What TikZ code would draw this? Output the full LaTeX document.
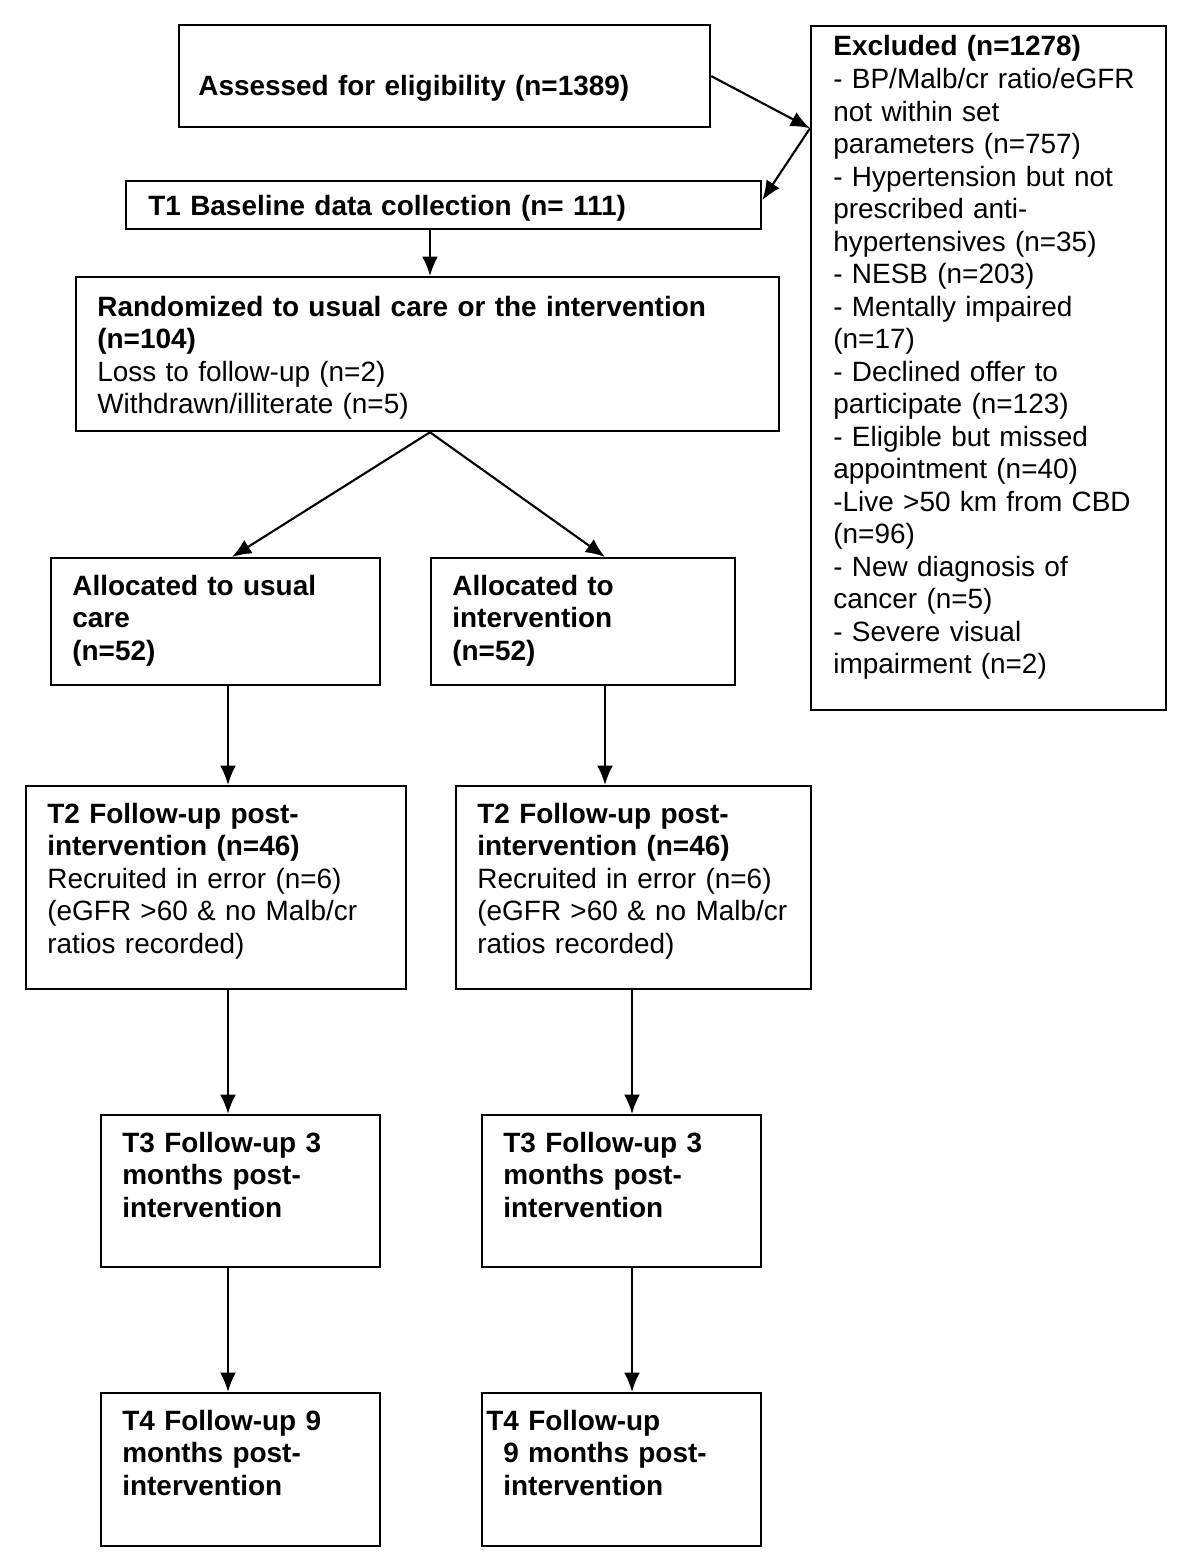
\documentclass[tikz,border=0pt]{standalone}
\usepackage{fontspec}
\setmainfont{Liberation Sans}
\usetikzlibrary{arrows.meta,calc}

\begin{document}
\begin{tikzpicture}[x=0.2mm, y=-0.2mm,
	box/.style={draw, line width=1.3pt, anchor=north west, inner sep=0pt},
	txt/.style={anchor=base west, align=left, inner sep=0pt, text width=20cm, font=\fontsize{15.9}{18.5}\selectfont},
	arr/.style={line width=1.2pt, -{Latex[length=11pt, width=9pt]}}]
	
	\useasboundingbox (0,0) rectangle (1200,1568);
	
	%Boxes
	\node[box, minimum width=10.62cm, minimum height=2.04cm] (Assess) at (178,24) {};
	\node[box, minimum width=7.10cm, minimum height=13.68cm] (Excl) at (810,25) {};
	\node[box, minimum width=12.70cm, minimum height=0.96cm] (Base) at (125,180) {};
	\node[box, minimum width=14.06cm, minimum height=3.08cm] (Rand) at (75,276) {};
	\node[box, minimum width=6.58cm, minimum height=2.54cm] (Usual) at (50,557) {};
	\node[box, minimum width=6.08cm, minimum height=2.54cm] (Inter) at (430,557) {};
	\node[box, minimum width=7.60cm, minimum height=4.06cm] (TwoL) at (25,785) {};
	\node[box, minimum width=7.10cm, minimum height=4.06cm] (TwoR) at (455,785) {};
	\node[box, minimum width=5.58cm, minimum height=3.04cm] (ThreeL) at (100,1114) {};
	\node[box, minimum width=5.58cm, minimum height=3.04cm] (ThreeR) at (481,1114) {};
	\node[box, minimum width=5.58cm, minimum height=3.06cm] (FourL) at (100,1392) {};
	\node[box, minimum width=5.58cm, minimum height=3.06cm] (FourR) at (481,1392) {};
	
	%Texts
	\node[txt] (AssessT) at (198,96) {\bfseries Assessed for eligibility (n=1389)};
	\node[txt] (ExclT) at (833,56) {\textbf{Excluded (n=1278)}\\
		- BP/Malb/cr ratio/eGFR\\
		not within set\\
		parameters (n=757)\\
		- Hypertension but not\\
		prescribed anti-\\
		hypertensives (n=35)\\
		- NESB (n=203)\\
		- Mentally impaired\\
		(n=17)\\
		- Declined offer to\\
		participate (n=123)\\
		- Eligible but missed\\
		appointment (n=40)\\
		-Live >50 km from CBD\\
		(n=96)\\
		- New diagnosis of\\
		cancer (n=5)\\
		- Severe visual\\
		impairment (n=2)};
	\node[txt] (BaseT) at (148,215) {\bfseries T1 Baseline data collection (n= 111)};
	\node[txt] (RandT) at (97,316) {\textbf{Randomized to usual care or the intervention}\\
		\textbf{(n=104)}\\
		Loss to follow-up (n=2)\\
		Withdrawn/illiterate (n=5)};
	\node[txt] (UsualT) at (72,595) {\bfseries Allocated to usual\\care\\(n=52)};
	\node[txt] (InterT) at (452,595) {\bfseries Allocated to\\intervention\\(n=52)};
	\foreach \side/\xx in {L/47, R/477}
	{
		\node[txt] (TwoT\side) at (\xx,823) {\textbf{T2 Follow-up post-}\\
			\textbf{intervention (n=46)}\\
			Recruited in error (n=6)\\
			(eGFR >60 \& no Malb/cr\\
			ratios recorded)};
	}
	\node[txt] (ThreeTL) at (122,1152) {\bfseries T3 Follow-up 3\\months post-\\intervention};
	\node[txt] (ThreeTR) at (503,1152) {\bfseries T3 Follow-up 3\\months post-\\intervention};
	\node[txt] (FourTL) at (122,1430) {\bfseries T4 Follow-up 9\\months post-\\intervention};
	\node[txt] (FourTR) at (486,1430) {\bfseries T4 Follow-up\\\hspace*{0.34cm}9 months post-\\\hspace*{0.34cm}intervention};
	
	%Columns
	\coordinate (ColL) at (228,0);
	\coordinate (ColM) at (605,0);
	\coordinate (ColR) at (632,0);
	\coordinate (Split) at (430,0);
	\coordinate (ExIn) at (Excl.west |- Assess.south);
	
	%Arrows
	\draw[arr] (Assess.east) -- (ExIn);
	\draw[arr] (ExIn) -- ($(Base.north east)!0.4!(Base.south east)$);
	\draw[arr] (Base.south -| Split) -- (Rand.north -| Split);
	\draw[arr] (Rand.south -| Split) -- (Usual.north -| 232,0);
	\draw[arr] (Rand.south -| Split) -- (Inter.north -| ColM);
	\draw[arr] (Usual.south -| ColL) -- (TwoL.north -| ColL);
	\draw[arr] (Inter.south -| ColM) -- (TwoR.north -| ColM);
	\draw[arr] (TwoL.south -| ColL) -- (ThreeL.north -| ColL);
	\draw[arr] (TwoR.south -| ColR) -- (ThreeR.north -| ColR);
	\draw[arr] (ThreeL.south -| ColL) -- (FourL.north -| ColL);
	\draw[arr] (ThreeR.south -| ColR) -- (FourR.north -| ColR);
	
\end{tikzpicture}
\end{document}
